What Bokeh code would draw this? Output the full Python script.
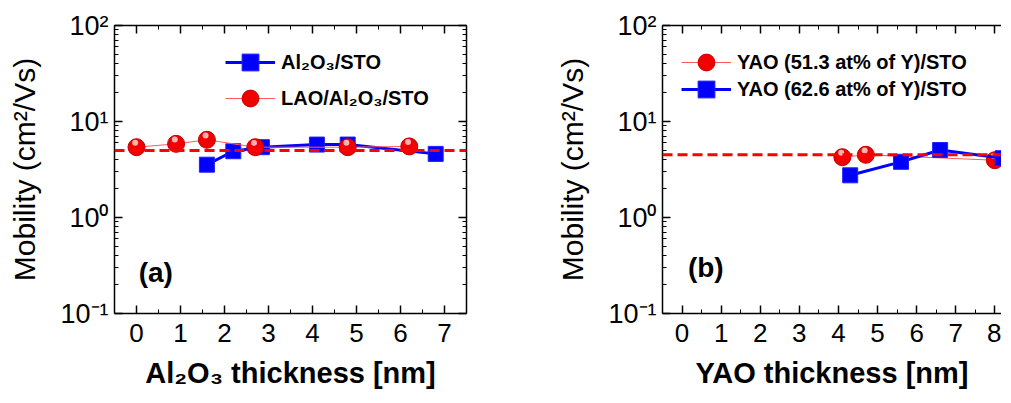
from bokeh.plotting import figure
from bokeh.models import Range1d, FixedTicker, LinearAxis, LogAxis, Span, Legend, LegendItem, Label
from bokeh.layouts import row
from bokeh.embed import file_html
from bokeh.resources import INLINE

# ---------------- data ----------------
# panel (a)
a_al2o3_x = [1.6, 2.2, 2.85, 4.1, 4.8, 6.8]
a_al2o3_y = [3.55, 4.9, 5.4, 5.75, 5.75, 4.6]
a_lao_x = [0.0, 0.9, 1.6, 2.7, 4.8, 6.2]
a_lao_y = [5.4, 5.85, 6.45, 5.4, 5.4, 5.5]
a_ref = 5.0
# panel (b)
b_y513_x = [4.1, 4.7, 8.0]
b_y513_y = [4.25, 4.5, 3.95]
b_y626_x = [4.3, 5.6, 6.6, 8.2]
b_y626_y = [2.75, 3.8, 5.05, 4.15]
b_ref = 4.5

y_tick_labels = {0.1: "10\u207b\u00b9", 1: "10\u2070", 10: "10\u00b9", 100: "10\u00b2"}

FONT = "Liberation Sans"
RED = "#ff0000"
BLUE = "#0000ff"


def style_axis(ax, show_labels=True):
    ax.axis_line_color = "black"
    ax.axis_line_width = 1.5
    ax.major_tick_line_color = "black"
    ax.major_tick_line_width = 1.5
    ax.minor_tick_line_color = "black"
    ax.minor_tick_line_width = 1
    ax.major_tick_in = 8
    ax.major_tick_out = 0
    ax.minor_tick_in = 4
    ax.minor_tick_out = 0
    ax.major_label_text_color = "black"
    ax.axis_label_text_color = "black"
    if not show_labels:
        ax.major_label_text_font_size = "1px"
        ax.major_label_text_color = None
        ax.major_label_standoff = 0


def make_panel(xmax, xticks, width, left, right, xlabel, tag, tag_x, tag_y, ref, right_axis):
    p = figure(width=width, height=395, x_range=Range1d(-0.5, xmax), y_range=Range1d(0.1, 100),
               y_axis_type="log", output_backend="svg", toolbar_location=None,
               min_border_left=left, min_border_right=right, min_border_top=25, min_border_bottom=82)
    p.outline_line_color = None
    p.xgrid.visible = False
    p.ygrid.visible = False
    p.background_fill_color = "white"
    p.border_fill_color = "white"

    xt = FixedTicker(ticks=xticks, minor_ticks=[t + 0.5 for t in [-1] + xticks])
    yt = FixedTicker(ticks=[0.1, 1, 10, 100],
                     minor_ticks=[m * 10.0 ** e for e in (-1, 0, 1) for m in range(2, 10)])
    p.xaxis.ticker = xt
    p.yaxis.ticker = yt
    for ax in p.xaxis + p.yaxis:
        style_axis(ax)
    p.yaxis.major_label_overrides = y_tick_labels
    p.xaxis.major_label_text_font = FONT
    p.xaxis.major_label_text_font_size = "26px"
    p.xaxis.major_label_standoff = 10
    p.yaxis.major_label_text_font = FONT
    p.yaxis.major_label_text_font_size = "27px"
    p.yaxis.major_label_standoff = 6
    p.xaxis.axis_label = xlabel
    p.xaxis.axis_label_text_font = FONT
    p.xaxis.axis_label_text_font_style = "bold"
    p.xaxis.axis_label_text_font_size = "29px"
    p.xaxis.axis_label_standoff = 12
    p.yaxis.axis_label = "Mobility (cm\u00b2/Vs)"
    p.yaxis.axis_label_text_font = FONT
    p.yaxis.axis_label_text_font_style = "normal"
    p.yaxis.axis_label_text_font_size = "30px"
    p.yaxis.axis_label_standoff = 16

    top = LinearAxis(ticker=xt)
    style_axis(top, show_labels=False)
    p.add_layout(top, "above")
    if right_axis:
        r = LogAxis(ticker=yt)
        style_axis(r, show_labels=False)
        p.add_layout(r, "right")

    p.add_layout(Span(location=ref, dimension="width", line_color=RED, line_width=3, line_dash="10 5"))
    p.add_layout(Label(x=tag_x, y=tag_y, text=tag, text_font=FONT, text_font_style="bold",
                       text_font_size="28px", text_baseline="middle", text_color="black"))
    return p


def red_series(p, xs, ys):
    ln = p.line(xs, ys, line_color="#ff5a5a", line_width=1)
    sc = p.scatter(xs, ys, marker="circle", size=17, fill_color="#f20000", line_color="#c00000", line_width=1)
    hx = [x - 0.03 for x in xs]
    hy = [y * 10 ** 0.045 for y in ys]
    p.scatter(hx, hy, marker="circle", size=6, fill_color="#ffc4c4", line_color=None, fill_alpha=0.9)
    return ln, sc


def blue_series(p, xs, ys):
    ln = p.line(xs, ys, line_color=BLUE, line_width=3)
    sc = p.scatter(xs, ys, marker="square", size=15, fill_color=BLUE, line_color="#2020ff", line_width=1)
    return ln, sc


def add_legend_entry(p, label, renderers, loc):
    p.add_layout(Legend(items=[LegendItem(label=label, renderers=renderers)], location=loc,
                        glyph_width=50, glyph_height=42, label_height=42, spacing=0,
                        padding=0, margin=0, border_line_color=None, background_fill_alpha=0,
                        label_text_font=FONT, label_text_font_style="bold", label_text_font_size="20px",
                        label_text_color="black", label_standoff=6))


# ---------------- panel (a) ----------------
pa = make_panel(7.5, list(range(0, 8)), 518, 114, 52, "Al\u2082O\u2083 thickness [nm]", "(a)", 0.05, 0.27, a_ref, True)
bl, bs = blue_series(pa, a_al2o3_x, a_al2o3_y)
rl, rs = red_series(pa, a_lao_x, a_lao_y)
add_legend_entry(pa, "Al\u2082O\u2083/STO", [bl, bs], (111, 230))
add_legend_entry(pa, "LAO/Al\u2082O\u2083/STO", [rl, rs], (111, 194))

# ---------------- panel (b) ----------------
pb = make_panel(8.17, list(range(0, 9)), 483, 144, 0, "YAO thickness [nm]", "(b)", 0.15, 0.30, b_ref, False)
rl2, rs2 = red_series(pb, b_y513_x, b_y513_y)
bl2, bs2 = blue_series(pb, b_y626_x, b_y626_y)
add_legend_entry(pb, "YAO (51.3 at% of Y)/STO", [rl2, rs2], (19, 230))
add_legend_entry(pb, "YAO (62.6 at% of Y)/STO", [bl2, bs2], (19, 203))

layout = row(pa, pb)
open("out.html", "w").write(file_html(layout, INLINE))
